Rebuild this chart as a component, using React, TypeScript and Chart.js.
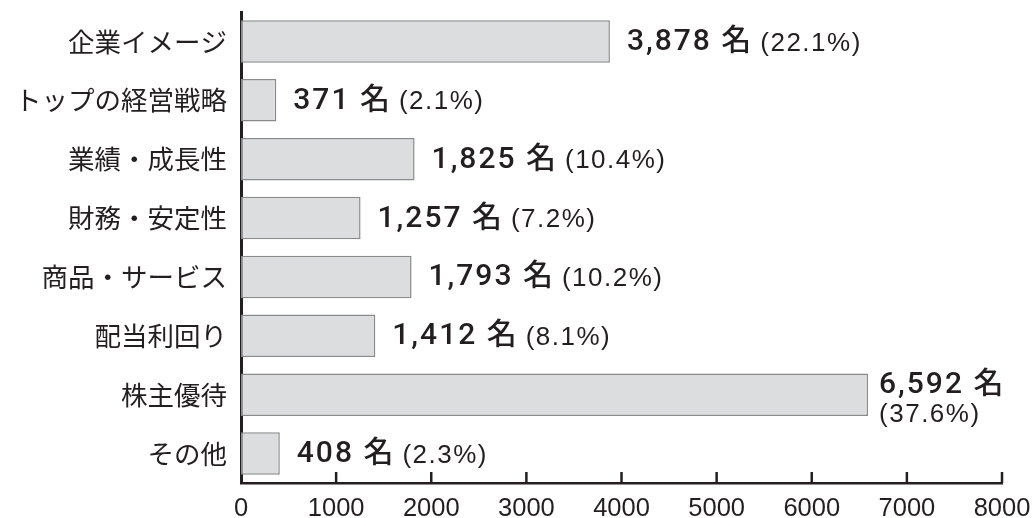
import React, { useEffect, useRef } from "react";
import { Chart, registerables } from "chart.js";

Chart.register(...registerables);

const categories = [
  "企業イメージ",
  "トップの経営戦略",
  "業績・成長性",
  "財務・安定性",
  "商品・サービス",
  "配当利回り",
  "株主優待",
  "その他",
];
const counts = [3878, 371, 1825, 1257, 1793, 1412, 6592, 408];
const percents = [22.1, 2.1, 10.4, 7.2, 10.2, 8.1, 37.6, 2.3];
const xTicks = [0, 1000, 2000, 3000, 4000, 5000, 6000, 7000, 8000];

const INK = "#231f20";
const MAIN_FONT = "500 30px Roboto, 'Noto Sans CJK JP', sans-serif";
const PCT_FONT = "26px 'Liberation Sans', 'Noto Sans CJK JP', sans-serif";
const MAIN_SP = "2px";
const PCT_SP = "1.5px";

const innerTicks = {
  id: "innerTicks",
  afterDraw(chart: any) {
    const ctx = chart.ctx;
    const xs = chart.scales.x;
    const bottom = chart.chartArea.bottom;
    ctx.save();
    ctx.strokeStyle = INK;
    ctx.lineWidth = 2.5;
    xTicks.forEach((v) => {
      const px = xs.getPixelForValue(v);
      if (v === 0) return;
      ctx.beginPath();
      ctx.moveTo(px, bottom);
      ctx.lineTo(px, bottom - 11);
      ctx.stroke();
    });
    ctx.restore();
  },
};

const valueLabels = {
  id: "valueLabels",
  afterDatasetsDraw(chart: any) {
    const ctx = chart.ctx;
    const meta = chart.getDatasetMeta(0);
    meta.data.forEach((bar: any, i: number) => {
      const main = counts[i].toLocaleString("en-US") + " 名";
      const pct = "(" + percents[i].toFixed(1) + "%)";
      ctx.save();
      ctx.fillStyle = INK;
      ctx.textBaseline = "middle";
      ctx.textAlign = "left";
      (ctx as any).letterSpacing = MAIN_SP;
      ctx.font = MAIN_FONT;
      const w1 = ctx.measureText(main).width;
      ctx.font = PCT_FONT;
      (ctx as any).letterSpacing = PCT_SP;
      const w2 = ctx.measureText(pct).width;
      const x = bar.x + 17;
      if (x + w1 + 8 + w2 > chart.width - 10) {
        const x2 = bar.x + 11;
        ctx.font = MAIN_FONT;
        (ctx as any).letterSpacing = MAIN_SP;
        ctx.fillText(main, x2, bar.y - 9);
        ctx.font = PCT_FONT;
        (ctx as any).letterSpacing = PCT_SP;
        ctx.fillText(pct, x2, bar.y + 20);
      } else {
        ctx.font = MAIN_FONT;
        (ctx as any).letterSpacing = MAIN_SP;
        ctx.fillText(main, x, bar.y + 1);
        ctx.font = PCT_FONT;
        (ctx as any).letterSpacing = PCT_SP;
        ctx.fillText(pct, x + w1 + 7, bar.y + 2);
      }
      ctx.restore();
    });
  },
};

export default function App() {
  const ref = useRef<HTMLCanvasElement | null>(null);
  useEffect(() => {
    document.body.style.margin = "0";
    const chart = new Chart(ref.current as HTMLCanvasElement, {
      type: "bar",
      data: {
        labels: categories,
        datasets: [
          {
            data: counts,
            backgroundColor: "#dcddde",
            borderColor: "#8a8a8a",
            borderWidth: 1.5,
            borderSkipped: false,
            barPercentage: 0.72,
            categoryPercentage: 1,
          },
        ],
      },
      options: {
        indexAxis: "y",
        animation: false,
        responsive: true,
        maintainAspectRatio: false,
        layout: { padding: { top: 12, right: 34, left: 0, bottom: 0 } },
        plugins: { legend: { display: false }, tooltip: { enabled: false } },
        scales: {
          x: {
            min: 0,
            max: 8000,
            afterBuildTicks: (s: any) => {
              s.ticks = xTicks.map((v) => ({ value: v }));
            },
            afterFit: (s: any) => {
              s.height = 35;
              s.paddingLeft = 0;
              s.paddingRight = 0;
            },
            grid: { display: false, drawTicks: false },
            border: { display: true, color: INK, width: 2.5 },
            ticks: {
              color: INK,
              padding: 11,
              maxRotation: 0,
              autoSkip: false,
              callback: (v: any) => String(v),
              font: { family: "'Liberation Sans', sans-serif", size: 25.5 },
            },
          },
          y: {
            afterFit: (s: any) => {
              s.width = 241;
              s.paddingTop = 0;
              s.paddingBottom = 0;
            },
            grid: { display: false, drawTicks: false },
            border: { display: true, color: INK, width: 3 },
            ticks: {
              color: INK,
              padding: 14,
              font: { family: "'Noto Sans CJK JP', sans-serif", size: 26.5 },
            },
          },
        },
      },
      plugins: [innerTicks, valueLabels],
    });
    return () => chart.destroy();
  }, []);
  return (
    <div style={{ position: "absolute", left: 0, top: 0, width: 1036, height: 518 }}>
      <canvas ref={ref} />
    </div>
  );
}
